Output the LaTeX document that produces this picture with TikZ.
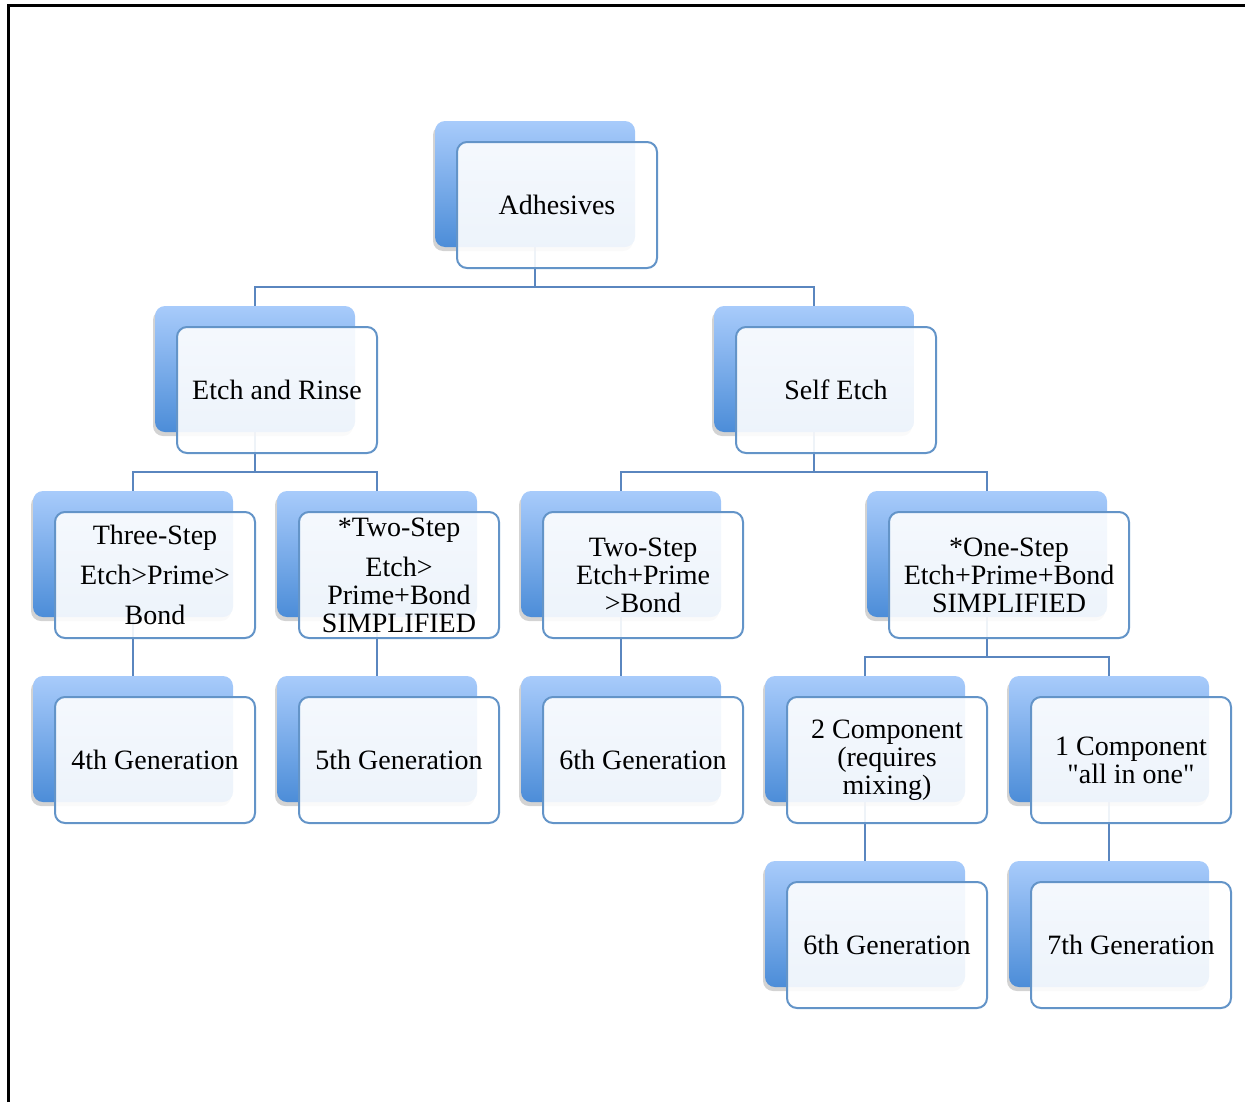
\documentclass[tikz,border=0pt]{standalone}
\usepackage{fontspec}
\setmainfont{Liberation Serif}[Ligatures=TeXOff]
\usetikzlibrary{calc,shadows,backgrounds}
\definecolor{boxtop}{HTML}{A8CBFB}
\definecolor{boxbot}{HTML}{4C8DD8}
\definecolor{boxline}{HTML}{6394C8}
\definecolor{connline}{HTML}{5A86BF}
% one block: shaded back card + framed front card
\newcommand{\gen}[5][100pt]{%
  \node[backbox,minimum width=#1] (#2-b) at (#3,#4) {};
  \node[frontbox,minimum width=#1] (#2) at ($(#2-b)+(22,21)$) {#5};
}
\tikzset{
  backbox/.style={rounded corners=5pt,top color=boxtop,bottom color=boxbot,minimum height=63pt,inner sep=0pt,outer sep=0pt,
    drop shadow={shadow xshift=-1pt,shadow yshift=-2pt,opacity=0.35}},
  frontbox/.style={draw=boxline,line width=1pt,rounded corners=5pt,fill=white,fill opacity=0.9,text opacity=1,
    minimum height=63pt,inner sep=2pt,outer sep=0pt,align=center,font=\fontsize{14}{14}\selectfont},
  conn/.style={draw=connline,line width=1pt},
}

\begin{document}
\begin{tikzpicture}[x=0.5pt,y=-0.5pt]
 \useasboundingbox (0,0) rectangle (1245,1102);
 \draw[line width=1.5pt] (8,1102) -- (8,6) -- (1245,6);
 \gen{adh}{535}{184}{Adhesives}
 \gen{er}{255}{369}{Etch and Rinse}
 \gen{se}{814}{369}{Self Etch}
 \gen{three}{133}{554}{Three-Step\\[6pt]Etch>Prime>\\[6pt]Bond}
 \gen{twos}{377}{554}{*Two-Step\\[6pt]Etch>\\Prime+Bond\\SIMPLIFIED}
 \gen{two}{621}{554}{Two-Step\\Etch+Prime\\>Bond}
 \gen[120pt]{one}{987}{554}{*One-Step\\Etch+Prime+Bond\\SIMPLIFIED}
 \gen{g4}{133}{739}{4th Generation}
 \gen{g5}{377}{739}{5th Generation}
 \gen{g6a}{621}{739}{6th Generation}
 \gen{comp2}{865}{739}{2 Component\\(requires\\mixing)}
 \gen{comp1}{1109}{739}{1 Component\\"all in one"}
 \gen{g6b}{865}{924}{6th Generation}
 \gen{g7}{1109}{924}{7th Generation}
 \begin{scope}[on background layer]
  \draw[conn] (adh-b.south) -- ++(0,40) -| (er-b.north);
  \draw[conn] (adh-b.south) -- ++(0,40) -| (se-b.north);
  \draw[conn] (er-b.south) -- ++(0,40) -| (three-b.north);
  \draw[conn] (er-b.south) -- ++(0,40) -| (twos-b.north);
  \draw[conn] (se-b.south) -- ++(0,40) -| (two-b.north);
  \draw[conn] (se-b.south) -- ++(0,40) -| (one-b.north);
  \draw[conn] (three-b.south) -- (g4-b.north);
  \draw[conn] (twos-b.south) -- (g5-b.north);
  \draw[conn] (two-b.south) -- (g6a-b.north);
  \draw[conn] (one-b.south) -- ++(0,40) -| (comp2-b.north);
  \draw[conn] (one-b.south) -- ++(0,40) -| (comp1-b.north);
  \draw[conn] (comp2-b.south) -- (g6b-b.north);
  \draw[conn] (comp1-b.south) -- (g7-b.north);
 \end{scope}
\end{tikzpicture}
\end{document}
